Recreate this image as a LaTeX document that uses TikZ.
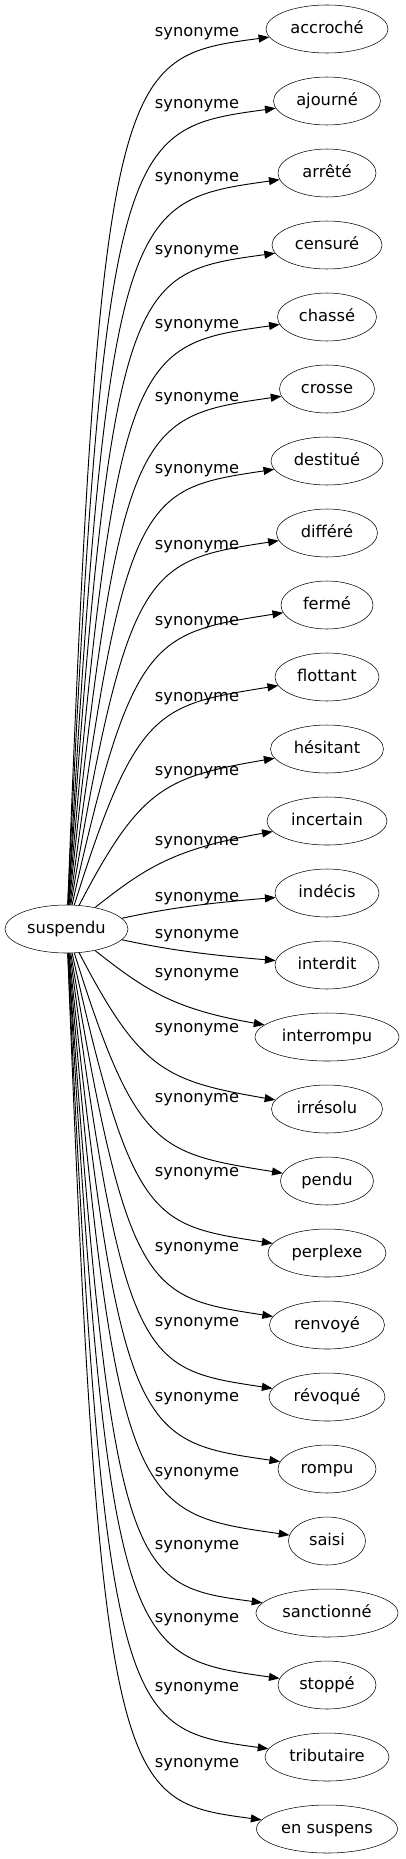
\documentclass[tikz,border=0pt]{standalone}
\usepackage{fontspec}
\setmainfont{DejaVu Sans}
\usetikzlibrary{arrows.meta}
\usetikzlibrary{shapes.geometric}

\tikzset{
	word/.style={draw, ellipse, inner sep=0pt, minimum height=36pt, text height=9.3pt, text depth=2.9pt, font=\fontsize{12.2}{14}\selectfont},
	syn/.style={inner sep=0pt, text height=9.3pt, text depth=2.9pt, font=\fontsize{12.2}{14}\selectfont},
	link/.style={-{Triangle[length=8pt,width=6pt]}, line width=0.7pt}
}

\begin{document}
\begin{tikzpicture}[x=0.75pt, y=-0.75pt]
	\useasboundingbox (0,0) rectangle (405,1859);
	\node [word, minimum width=92.25pt] (c) at (66.5,929) {suspendu};
	
	% one word, its width and the height of its label
	\foreach \txt/\w/\ly [count=\i] in {accroché/122/32, ajourné/107/104, arrêté/98/177,
		censuré/110/250, chassé/99/324, crosse/95/397, destitué/112/469, différé/101/545,
		fermé/92/621, flottant/104/697, hésitant/113/771, incertain/120/841, indécis/104/897,
		interdit/104/934, interrompu/144/973, irrésolu/111/1028, pendu/93/1098,
		perplexe/118/1172, renvoyé/115/1247, révoqué/116/1322, rompu/98/1397, saisi/77/1472,
		sanctionné/142/1545, stoppé/98/1618, tributaire/124/1687, en suspens/141/1763} {
		\pgfmathsetmacro{\yt}{29+72*(\i-1)}
		\pgfmathsetmacro{\dy}{929-\yt}
		\pgfmathsetmacro{\dist}{abs(\dy)}
		\pgfmathsetmacro{\sg}{\dy/\dist}
		\pgfmathsetmacro{\pa}{150-\dist/18}
		\pgfmathsetmacro{\pb}{\yt+\sg*min(0.55*\dist,31+30*max(0,1-\dist/250))}
		\pgfmathsetmacro{\pc}{200-80*sqrt(\dist/900)}
		\pgfmathsetmacro{\pd}{\yt+\sg*min(0.33*\dist,28)}
		\pgfmathsetmacro{\aout}{atan2(929-\pb,\pa-66.5)}
		\pgfmathsetmacro{\ain}{atan2(\yt-\pd,\pc-327)}
		\node [word, minimum width=\w*0.75pt] (t\i) at (327,\yt) {\txt};
		\node [syn] (l\i) at (197,\ly) {synonyme};
		\draw [link] (c.\aout) .. controls (\pa,\pb) and (\pc,\pd) .. (t\i.\ain);
	}
\end{tikzpicture}
\end{document}
